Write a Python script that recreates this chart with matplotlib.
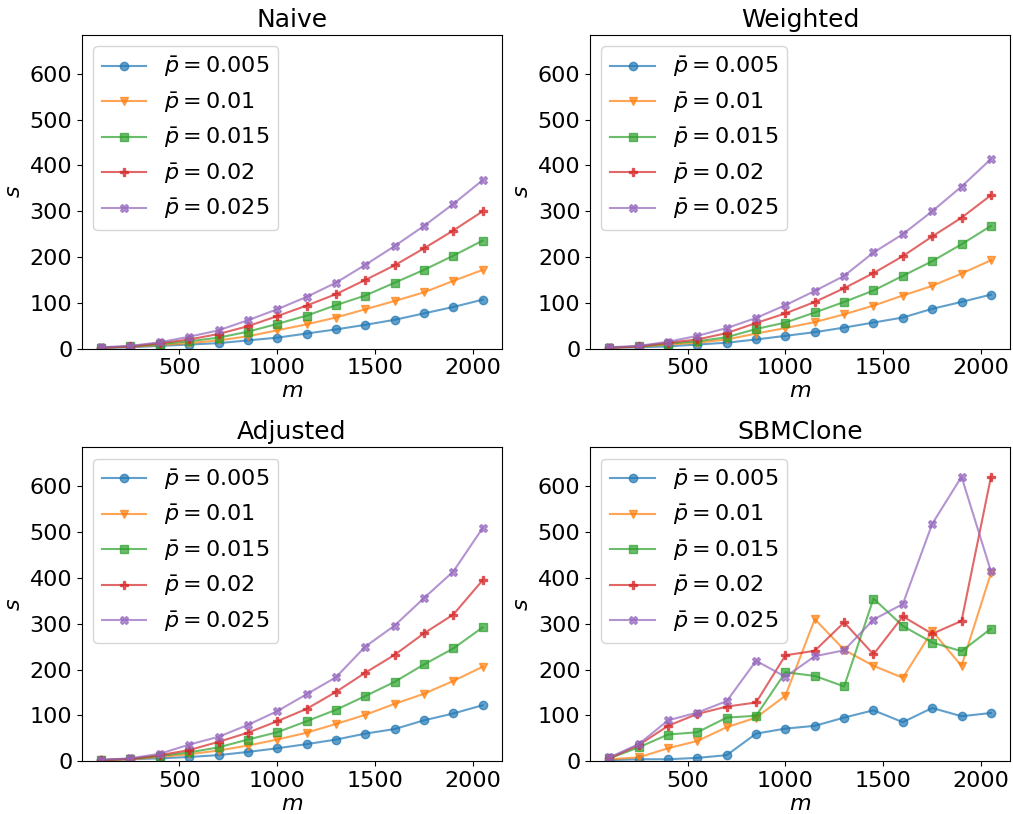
import numpy as np
import matplotlib
matplotlib.use("Agg")
import matplotlib.pyplot as plt
from matplotlib.ticker import MultipleLocator

m_values = [100, 250, 400, 550, 700, 850, 1000, 1150, 1300, 1450, 1600, 1750, 1900, 2050]
p_bars = ["0.005", "0.01", "0.015", "0.02", "0.025"]
markers = ["o", "v", "s", "P", "X"]

# s per method, one row per p_bar
naive = [
    [1.5, 3, 6, 9, 12, 18, 24, 33, 42, 52, 63, 77, 91, 107],
    [2, 4, 8, 12, 18, 27, 40, 53, 68, 86, 104, 123, 148, 172],
    [2, 5, 10, 16, 24, 37, 54, 72, 95, 116, 144, 172, 203, 236],
    [2, 5, 12, 20, 32, 49, 71, 94, 119, 150, 182, 219, 258, 300],
    [3, 6, 14, 26, 40, 62, 86, 113, 144, 183, 224, 268, 316, 368],
]
weighted = [
    [2, 3, 5, 9, 13, 20, 28, 36, 46, 57, 68, 87, 102, 118],
    [2, 4, 9, 13, 20, 33, 45, 58, 75, 94, 116, 137, 164, 193],
    [2, 5, 11, 16, 25, 43, 57, 79, 102, 127, 159, 191, 228, 268],
    [2, 5, 13, 20, 34, 56, 77, 102, 132, 165, 202, 245, 286, 335],
    [3, 6, 15, 28, 45, 67, 95, 126, 159, 210, 250, 300, 354, 414],
]
adjusted = [
    [2, 4, 6, 9, 13, 20, 28, 37, 47, 60, 70, 89, 104, 122],
    [2, 4, 9, 15, 23, 34, 47, 62, 81, 101, 125, 147, 175, 206],
    [2, 5, 11, 19, 30, 47, 63, 87, 112, 142, 173, 211, 246, 292],
    [2, 5, 13, 24, 42, 62, 87, 114, 151, 193, 232, 279, 320, 395],
    [3, 6, 16, 36, 53, 79, 109, 146, 183, 250, 296, 356, 414, 509],
]
sbmclone = [
    [2, 4, 4, 7, 13, 60, 71, 77, 95, 111, 85, 116, 98, 105],
    [4, 8, 28, 44, 74, 95, 143, 310, 243, 208, 182, 284, 208, 410],
    [6, 30, 58, 63, 95, 99, 194, 186, 163, 355, 295, 259, 240, 289],
    [6, 35, 77, 103, 119, 128, 231, 241, 303, 233, 316, 278, 306, 620],
    [8, 37, 89, 106, 131, 219, 184, 229, 242, 309, 343, 518, 621, 415],
]

methods = ["Naive", "Weighted", "Adjusted", "SBMClone"]
results = [naive, weighted, adjusted, sbmclone]

plt.rcParams.update({"font.size": 16})

fig, axes = plt.subplots(2, 2, figsize=(10.13, 8.14), dpi=100, sharey=True)
for ax, name, res in zip(axes.flat, methods, results):
    for vals, p, mk in zip(res, p_bars, markers):
        ax.plot(m_values, vals, marker=mk, alpha=0.7, label=r"$\bar{p} = %s$" % p)
    ax.set_title(name, fontsize=18)
    ax.set_xlabel(r"$m$", labelpad=2)
    ax.set_ylabel(r"$s$")
    ax.set_ylim(0, 685)
    ax.yaxis.set_major_locator(MultipleLocator(100))
    ax.tick_params(labelleft=True, labelsize=16)
    ax.legend(loc="upper left", fontsize=16)

fig.subplots_adjust(left=0.081, right=0.997, top=0.957, bottom=0.065,
                    wspace=0.211, hspace=0.315)
plt.savefig("out.png")
